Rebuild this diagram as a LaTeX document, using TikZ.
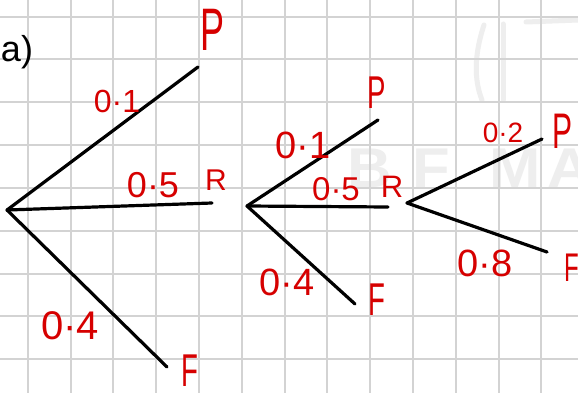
\documentclass[tikz,border=0pt]{standalone}
\usepackage{xcolor}
\usepackage{fontspec}
\setmainfont{Liberation Sans}
\newfontfamily\narrowfont[FakeStretch=0.6]{Liberation Sans}
\newfontfamily\wmarkfont[FakeStretch=1.1]{Liberation Sans}
\definecolor{inkred}{RGB}{214,0,0}
\definecolor{gridgray}{RGB}{211,211,211}
\definecolor{wmgray}{RGB}{238,238,238}
\tikzset{
  branch/.style={line width=3.2pt, line cap=round},
  prob/.style={text=inkred, inner sep=0pt, font=\fontsize{#1}{#1}\selectfont},
  outcome/.style={text=inkred, inner sep=0pt, font=\narrowfont\fontsize{#1}{#1}\selectfont},
  wideoutcome/.style={text=inkred, inner sep=0pt, font=\fontsize{#1}{#1}\selectfont},
  wmletter/.style={text=wmgray, inner sep=0pt, font=\wmarkfont\bfseries\fontsize{56}{56}\selectfont}
}

\begin{document}
\begin{tikzpicture}[x=1pt,y=-1pt]
\useasboundingbox (0,0) rectangle (578,393);
\clip (0,0) rectangle (578,393);
\fill[white] (0,0) rectangle (578,393);
\node[wmletter] (wmB) at (370,168) {B};
\node[wmletter] (wmF) at (431,168) {F};
\node[wmletter] (wmM) at (515,168) {M};
\node[wmletter] (wmA) at (570,168) {A};
\draw[wmgray, line width=5pt] (455,-2) arc[start angle=190, end angle=350, x radius=43, y radius=8];
\draw[wmgray, line width=5pt, line cap=round] (484,25) .. controls (474,55) and (474,80) .. (482,100);
\draw[wmgray, line width=5pt, line cap=round] (503,24) -- (503,100);
\draw[wmgray, line width=5pt, line cap=round] (526,22) -- (578,20);
\foreach \i in {0,...,12}
  \draw[gridgray, line width=2pt] (27.7+42.8*\i,0) -- (27.7+42.8*\i,393);
\foreach \j in {0,...,8}
  \draw[gridgray, line width=2pt] (0,16.7+42.8*\j) -- (578,16.7+42.8*\j);

\node[inner sep=0pt, font=\fontsize{36}{36}\selectfont] (part) at (17,52) {a)};

\coordinate (rootA) at (7,210);
\coordinate (endAP) at (198,67);
\coordinate (endAR) at (212,203);
\coordinate (endAF) at (167,367);
\draw[branch] (rootA) -- (endAP);
\draw[branch] (rootA) -- (endAR);
\draw[branch] (rootA) -- (endAF);
\node[outcome=60] (labAP) at (213,30) {P};
\node[prob=32] (pAP) at (117,101) {0·1};
\node[prob=36] (pAR) at (153,185) {0·5};
\node[wideoutcome=30] (labAR) at (216,180) {R};
\node[prob=40] (pAF) at (70,326) {0·4};
\node[outcome=46] (labAF) at (190,371) {F};

\coordinate (rootB) at (247,206);
\coordinate (endBP) at (378,120);
\coordinate (endBR) at (388,207);
\coordinate (endBF) at (355,304);
\draw[branch] (rootB) -- (endBP);
\draw[branch] (rootB) -- (endBR);
\draw[branch] (rootB) -- (endBF);
\node[outcome=46] (labBP) at (377,93) {P};
\node[prob=38] (pBP) at (303,145) {0·1};
\node[prob=33] (pBR) at (336,189) {0·5};
\node[wideoutcome=31] (labBR) at (392,187) {R};
\node[prob=38] (pBF) at (287,282) {0·4};
\node[outcome=46] (labBF) at (377,300) {F};

\coordinate (rootC) at (407,203);
\coordinate (endCP) at (542,139);
\coordinate (endCF) at (547,252);
\draw[branch] (rootC) -- (endCP);
\draw[branch] (rootC) -- (endCF);
\node[prob=28] (pCP) at (503,133) {0·2};
\node[outcome=50] (labCP) at (562,131) {P};
\node[prob=38] (pCF) at (485,263) {0·8};
\node[outcome=40] (labCF) at (572,268) {F};
\end{tikzpicture}
\end{document}
